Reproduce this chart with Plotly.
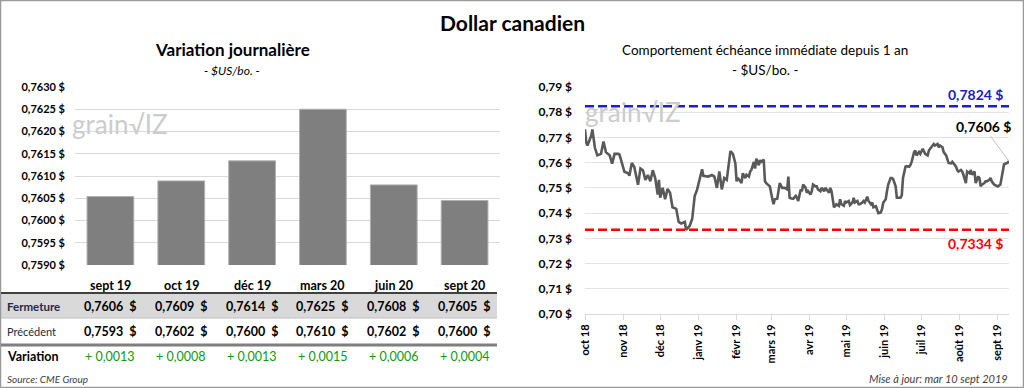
import plotly.graph_objects as go

# ---------------- data ----------------
contracts = ["sept 19", "oct 19", "déc 19", "mars 20", "juin 20", "sept 20"]
bar_close = [0.76054, 0.76089, 0.76134, 0.7625, 0.7608, 0.76045]
close_txt = ["0,7606  $", "0,7609  $", "0,7614  $", "0,7625  $", "0,7608  $", "0,7605  $"]
prev_txt = ["0,7593  $", "0,7602  $", "0,7600  $", "0,7610  $", "0,7602  $", "0,7600  $"]
var_txt = ["+ 0,0013", "+ 0,0008", "+ 0,0013", "+ 0,0015", "+ 0,0006", "+ 0,0004"]

dates = [
    "2018-10-01", "2018-10-02", "2018-10-03", "2018-10-06", "2018-10-07", "2018-10-09", "2018-10-11",
    "2018-10-14", "2018-10-16", "2018-10-18", "2018-10-21", "2018-10-23", "2018-10-25", "2018-10-28",
    "2018-10-29", "2018-10-31", "2018-11-02", "2018-11-05", "2018-11-06", "2018-11-08", "2018-11-10",
    "2018-11-13", "2018-11-15", "2018-11-17", "2018-11-19", "2018-11-21", "2018-11-23", "2018-11-25",
    "2018-11-27", "2018-11-29", "2018-11-30", "2018-12-01", "2018-12-03", "2018-12-05", "2018-12-07",
    "2018-12-09", "2018-12-11", "2018-12-14", "2018-12-16", "2018-12-18", "2018-12-21", "2018-12-22",
    "2018-12-25", "2018-12-27", "2018-12-29", "2018-12-31", "2019-01-02", "2019-01-04", "2019-01-05",
    "2019-01-09", "2019-01-12", "2019-01-14", "2019-01-16", "2019-01-18", "2019-01-20", "2019-01-22",
    "2019-01-24", "2019-01-27", "2019-01-29", "2019-01-31", "2019-02-01", "2019-02-02", "2019-02-04",
    "2019-02-05", "2019-02-06", "2019-02-08", "2019-02-09", "2019-02-11", "2019-02-12", "2019-02-13",
    "2019-02-15", "2019-02-16", "2019-02-17", "2019-02-19", "2019-02-20", "2019-02-21", "2019-02-23",
    "2019-02-24", "2019-02-25", "2019-02-28", "2019-03-02", "2019-03-03", "2019-03-04", "2019-03-06",
    "2019-03-08", "2019-03-09", "2019-03-10", "2019-03-12", "2019-03-14", "2019-03-15", "2019-03-16",
    "2019-03-18", "2019-03-19", "2019-03-21", "2019-03-22", "2019-03-23", "2019-03-25", "2019-03-26",
    "2019-03-27", "2019-03-29", "2019-03-30", "2019-03-31", "2019-04-02", "2019-04-03", "2019-04-04",
    "2019-04-06", "2019-04-07", "2019-04-08", "2019-04-10", "2019-04-11", "2019-04-13", "2019-04-14",
    "2019-04-15", "2019-04-17", "2019-04-18", "2019-04-19", "2019-04-21", "2019-04-22", "2019-04-23",
    "2019-04-25", "2019-04-26", "2019-04-27", "2019-04-29", "2019-04-30", "2019-05-01", "2019-05-03",
    "2019-05-04", "2019-05-06", "2019-05-07", "2019-05-08", "2019-05-10", "2019-05-11", "2019-05-12",
    "2019-05-14", "2019-05-15", "2019-05-16", "2019-05-18", "2019-05-19", "2019-05-21", "2019-05-22",
    "2019-05-23", "2019-05-25", "2019-05-26", "2019-05-27", "2019-05-29", "2019-05-30", "2019-05-31",
    "2019-06-02", "2019-06-03", "2019-06-04", "2019-06-06", "2019-06-07", "2019-06-08", "2019-06-10",
    "2019-06-11", "2019-06-12", "2019-06-14", "2019-06-15", "2019-06-16", "2019-06-18", "2019-06-19",
    "2019-06-21", "2019-06-22", "2019-06-23", "2019-06-25", "2019-06-26", "2019-06-27", "2019-06-29",
    "2019-06-30", "2019-07-02", "2019-07-03", "2019-07-04", "2019-07-06", "2019-07-07", "2019-07-08",
    "2019-07-10", "2019-07-11", "2019-07-12", "2019-07-14", "2019-07-15", "2019-07-16", "2019-07-18",
    "2019-07-19", "2019-07-21", "2019-07-22", "2019-07-23", "2019-07-25", "2019-07-26", "2019-07-27",
    "2019-07-29", "2019-07-30", "2019-07-31", "2019-08-02", "2019-08-03", "2019-08-04", "2019-08-06",
    "2019-08-07", "2019-08-09", "2019-08-10", "2019-08-11", "2019-08-13", "2019-08-14", "2019-08-16",
    "2019-08-17", "2019-08-18", "2019-08-19", "2019-08-21", "2019-08-22", "2019-08-23", "2019-08-25",
    "2019-08-26", "2019-08-27", "2019-08-29", "2019-09-01", "2019-09-03", "2019-09-05", "2019-09-06",
    "2019-09-09", "2019-09-10",
]
prices = [
    0.7732, 0.7680, 0.7668, 0.7706, 0.7732, 0.7660, 0.7629,
    0.7635, 0.7684, 0.7641, 0.7629, 0.7596, 0.7635, 0.7635,
    0.7632, 0.7596, 0.7564, 0.7558, 0.7548, 0.7599, 0.7583,
    0.7512, 0.7577, 0.7570, 0.7532, 0.7551, 0.7526, 0.7570,
    0.7538, 0.7474, 0.7532, 0.7461, 0.7500, 0.7455, 0.7496,
    0.7481, 0.7423, 0.7417, 0.7365, 0.7359, 0.7365, 0.7334,
    0.7350, 0.7378, 0.7468, 0.7494, 0.7532, 0.7574, 0.7548,
    0.7545, 0.7551, 0.7545, 0.7500, 0.7565, 0.7494, 0.7539,
    0.7532, 0.7646, 0.7635, 0.7597, 0.7526, 0.7539, 0.7526,
    0.7519, 0.7558, 0.7539, 0.7552, 0.7545, 0.7565, 0.7571,
    0.7603, 0.7577, 0.7616, 0.7590, 0.7610, 0.7603, 0.7612,
    0.7526, 0.7519, 0.7506, 0.7455, 0.7435, 0.7455, 0.7457,
    0.7519, 0.7506, 0.7500, 0.7500, 0.7494, 0.7545, 0.7461,
    0.7457, 0.7457, 0.7468, 0.7461, 0.7448, 0.7494, 0.7487,
    0.7513, 0.7500, 0.7481, 0.7487, 0.7474, 0.7487, 0.7513,
    0.7506, 0.7506, 0.7494, 0.7487, 0.7500, 0.7487, 0.7500,
    0.7494, 0.7481, 0.7500, 0.7487, 0.7423, 0.7429, 0.7435,
    0.7429, 0.7455, 0.7435, 0.7429, 0.7448, 0.7442, 0.7448,
    0.7432, 0.7442, 0.7461, 0.7442, 0.7448, 0.7435, 0.7435,
    0.7442, 0.7448, 0.7442, 0.7465, 0.7448, 0.7435, 0.7442,
    0.7423, 0.7427, 0.7410, 0.7400, 0.7403, 0.7416, 0.7442,
    0.7455, 0.7487, 0.7513, 0.7539, 0.7539, 0.7535, 0.7506,
    0.7461, 0.7461, 0.7461, 0.7470, 0.7539, 0.7584, 0.7586,
    0.7584, 0.7590, 0.7603, 0.7642, 0.7648, 0.7629, 0.7642,
    0.7635, 0.7655, 0.7642, 0.7635, 0.7629, 0.7648, 0.7655,
    0.7668, 0.7674, 0.7668, 0.7674, 0.7661, 0.7668, 0.7661,
    0.7642, 0.7629, 0.7616, 0.7599, 0.7597, 0.7603, 0.7597,
    0.7584, 0.7571, 0.7565, 0.7571, 0.7565, 0.7552, 0.7519,
    0.7565, 0.7558, 0.7571, 0.7552, 0.7565, 0.7519, 0.7545,
    0.7539, 0.7506, 0.7513, 0.7519, 0.7526, 0.7526, 0.7532,
    0.7539, 0.7526, 0.7513, 0.7506, 0.7513, 0.7577, 0.7594,
    0.7600, 0.7606,
]
high_1y = 0.7824
low_1y = 0.7334
last_txt = "0,7606 $"
high_txt = "0,7824 $"
low_txt = "0,7334 $"

month_ticks = ["2018-10-01", "2018-11-01", "2018-12-01", "2019-01-01", "2019-02-01", "2019-03-01",
               "2019-04-01", "2019-05-01", "2019-06-01", "2019-07-01", "2019-08-01", "2019-09-01"]
month_labels = ["oct 18", "nov 18", "déc 18", "janv 19", "févr 19", "mars 19",
                "avr 19", "mai 19", "juin 19", "juil 19", "août 19", "sept 19"]

# ---------------- figure ----------------
W, H = 1024, 388
FONT = "Lato"


def px(x):
    return x / W


def py(y):
    return 1 - y / H


fig = go.Figure()

fig.add_trace(go.Bar(
    x=contracts, y=bar_close, xaxis="x", yaxis="y",
    marker=dict(color="#7f7f7f", line=dict(color="#b0b0b0", width=1)),
    showlegend=False, hoverinfo="skip",
))

fig.add_trace(go.Scatter(
    x=dates, y=prices, xaxis="x2", yaxis="y2", mode="lines",
    line=dict(color="#595959", width=2.6), showlegend=False, hoverinfo="skip",
))

layout = dict(
    width=W, height=H,
    margin=dict(l=0, r=0, t=0, b=0, pad=0, autoexpand=False),
    paper_bgcolor="white", plot_bgcolor="white",
    separators=", ",
    font=dict(family=FONT, color="#000000"),
    bargap=0.34,
    xaxis=dict(domain=[px(75), px(500)], showticklabels=False, showgrid=False,
               zeroline=False, showline=False, ticks="", fixedrange=True),
    yaxis=dict(domain=[py(265), py(87)], range=[0.7590, 0.7630], dtick=0.0005,
               tick0=0.7590, tickformat=".4f", ticksuffix=" $",
               tickfont=dict(size=11, family=FONT, color="#000000", weight="bold"),
               showgrid=True, gridcolor="#d9d9d9", gridwidth=1, zeroline=False,
               showline=False, ticks="", ticklabelstandoff=9),
    xaxis2=dict(domain=[px(585), px(1009)], type="date",
                range=["2018-10-01", "2019-09-10"],
                tickmode="array", tickvals=month_ticks, ticktext=month_labels,
                tickangle=-90,
                tickfont=dict(size=11, family=FONT, color="#000000", weight="bold"),
                showgrid=False, zeroline=False, showline=True, linecolor="#d9d9d9",
                ticks="outside", ticklen=5, tickcolor="#d9d9d9", anchor="y2"),
    yaxis2=dict(domain=[py(314), py(87)], range=[0.70, 0.79], dtick=0.01, tick0=0.70,
                tickformat=".2f", ticksuffix=" $", anchor="x2",
                tickfont=dict(size=12, family=FONT, color="#000000", weight="bold"),
                showgrid=True, gridcolor="#e3e3e3", gridwidth=1, zeroline=False,
                showline=False, ticks="", ticklabelstandoff=12),
)
fig.update_layout(**layout)

shapes = []
# outer frame
shapes.append(dict(type="rect", xref="paper", yref="paper", x0=0, x1=1, y0=0, y1=1,
                   line=dict(color="#9a9a9a", width=2.5), layer="above"))
# table: Fermeture row fill
shapes.append(dict(type="rect", xref="paper", yref="paper", x0=px(1), x1=px(497),
                   y0=py(318), y1=py(294), fillcolor="#d9d9d9", line=dict(width=0), layer="below"))
# header underline
shapes.append(dict(type="line", xref="paper", yref="paper", x0=px(1), x1=px(497),
                   y0=py(293), y1=py(293), line=dict(color="#404040", width=2)))
# separator under Fermeture
shapes.append(dict(type="line", xref="paper", yref="paper", x0=px(1), x1=px(497),
                   y0=py(318), y1=py(318), line=dict(color="#bfbfbf", width=1)))
# double line under Précédent
shapes.append(dict(type="line", xref="paper", yref="paper", x0=px(1), x1=px(497),
                   y0=py(345), y1=py(345), line=dict(color="#7f7f7f", width=3)))
# high / low lines
shapes.append(dict(type="line", xref="x2 domain", yref="y2", x0=0, x1=1, y0=high_1y, y1=high_1y,
                   line=dict(color="#2020c0", width=2.5, dash="9px,4px")))
shapes.append(dict(type="line", xref="x2 domain", yref="y2", x0=0, x1=1, y0=low_1y, y1=low_1y,
                   line=dict(color="#ff0000", width=2.5, dash="9px,4px")))
fig.update_layout(shapes=shapes)

ann = []


def text(x, y, s, size, xanchor="center", bold=False, italic=False, color="#000000", xref="paper"):
    ann.append(dict(x=x, y=y, xref=xref, yref="paper", text=s, showarrow=False,
                    xanchor=xanchor, yanchor="middle",
                    font=dict(family=FONT, size=size, color=color,
                              weight="bold" if bold else "normal",
                              style="italic" if italic else "normal")))


text(0.5, py(22), "Dollar canadien", 21, bold=True)
text(px(232), py(50), "Variation journalière", 17, bold=True)
text(px(232), py(70), "- $US/bo. -", 12, italic=True)
text(px(765), py(50), "Comportement échéance immédiate depuis 1 an", 13.5)
text(px(765), py(70), "- $US/bo. -", 13.5)

# watermarks
ann.append(dict(x=px(70), y=py(124), xref="paper", yref="paper", text="grain√IZ", showarrow=False,
                xanchor="left", yanchor="middle",
                font=dict(family=FONT, size=26, color="#cccccc")))
ann.append(dict(x=px(583), y=py(112), xref="paper", yref="paper", text="grain√IZ", showarrow=False,
                xanchor="left", yanchor="middle",
                font=dict(family=FONT, size=26, color="#cccccc")))

# table
for c, ct, pt, vt in zip(contracts, close_txt, prev_txt, var_txt):
    text(c, py(285), c, 12.5, bold=True, xref="x")
    text(c, py(306), ct, 12.5, bold=True, xref="x")
    text(c, py(331), pt, 12.5, bold=True, xref="x")
    text(c, py(356), vt, 12.5, color="#109a10", xref="x")
text(px(5), py(306), "Fermeture", 11.5, xanchor="left", bold=True, color="#1f2a44")
text(px(5), py(331), "Précédent", 11, xanchor="left", color="#1f2a44")
text(px(5), py(356), "Variation", 12.5, xanchor="left", bold=True)
text(px(5), py(379), "Source: CME Group", 10, xanchor="left", italic=True, color="#404040")
text(px(1010), py(378), "Mise à jour: mar 10 sept 2019", 11, xanchor="right", italic=True, color="#404040")

# right chart labels
text(px(1005), py(94), high_txt, 14, xanchor="right", bold=True, color="#2020c0")
text(px(1005), py(243), low_txt, 14, xanchor="right", bold=True, color="#ff0000")
ann.append(dict(x=dates[-1], y=prices[-1], xref="x2", yref="y2", text=last_txt,
                showarrow=True, arrowhead=0, arrowwidth=1, arrowcolor="#c0c0c0",
                ax=-26, ay=-35, font=dict(family=FONT, size=14, color="#000000", weight="bold")))

fig.update_layout(annotations=ann)

fig.write_html("out.html", config={"displayModeBar": False},
               post_script="document.body.style.margin='0';")
